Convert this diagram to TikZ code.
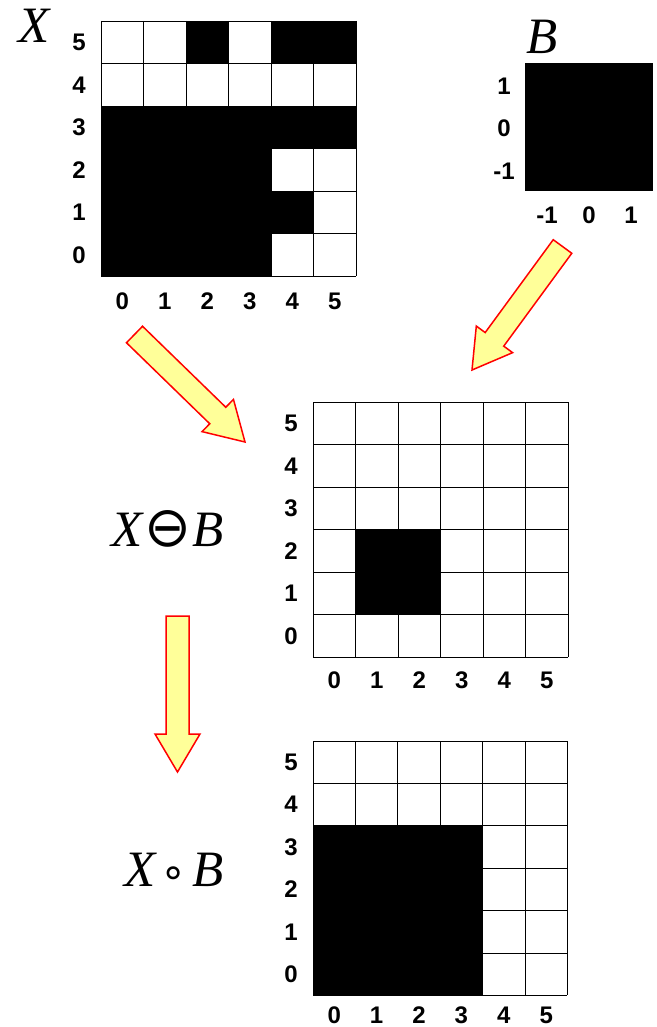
\documentclass[tikz,border=0pt]{standalone}
\usepackage{fontspec}
\setmainfont{Liberation Serif}
\newfontfamily\digitfont{Liberation Sans}
\newfontfamily\symbfont{DejaVu Sans}
\usetikzlibrary{calc}
\definecolor{arrowfill}{HTML}{FFFF99}
\tikzset{
  gridline/.style={line width=0.8pt, draw=black},
  axislabel/.style={font=\digitfont\bfseries\fontsize{24}{24}\selectfont, inner sep=0pt},
  setlabel/.style={font=\itshape\fontsize{51}{51}\selectfont, inner sep=0pt},
  blockarrow/.style={fill=arrowfill, draw=red, line width=1.5pt, line join=miter},
}
% #1 name, #2 x0, #3 y0, #4 cell size, #5 list of black cells col/row, #6 column label offset
\newcommand\gridsix[6]{%
  \coordinate (#1) at (#2,#3);
  \foreach \c/\r in {#5}{\fill ({#2+\c*#4},{#3+(5-\r)*#4}) rectangle ++(#4,#4);}
  \foreach \i in {0,...,6}{%
    \draw[gridline] ({#2+\i*#4},#3) -- ({#2+\i*#4},{#3+6*#4});
    \draw[gridline] (#2,{#3+\i*#4}) -- ({#2+6*#4},{#3+\i*#4});
  }
  \foreach \k in {0,...,5}{%
    \node[axislabel] (#1r\k) at ({#2-22},{#3+(5.5-\k)*#4}) {\k};
    \node[axislabel] (#1c\k) at ({#2+(\k+0.5)*#4},{#3+6*#4+#6}) {\k};
  }
}
% block arrow: #1 tail coordinate, #2 tip coordinate, #3 name
\newcommand\blockarr[3]{%
  \coordinate (#3h) at ($(#2)!38pt!(#1)$);
  \draw[blockarrow] ($(#1)!11.5pt!90:(#2)$) -- ($(#3h)!11.5pt!90:(#2)$) -- ($(#3h)!22.5pt!90:(#2)$)
    -- (#2) -- ($(#3h)!22.5pt!-90:(#2)$) -- ($(#3h)!11.5pt!-90:(#2)$) -- ($(#1)!11.5pt!-90:(#2)$) -- cycle;
}
\begin{document}
\begin{tikzpicture}[x=1pt,y=-1pt]
\useasboundingbox (0,0) rectangle (656,1027);
% X grid
\gridsix{gx}{101}{21}{42.5}{2/5,4/5,5/5,0/3,1/3,2/3,3/3,4/3,5/3,0/2,1/2,2/2,3/2,0/1,1/1,2/1,3/1,4/1,0/0,1/0,2/0,3/0}{25}
\node[setlabel] (lx) at (34,26) {X};
% B structuring element
\fill (525,63) rectangle (653,191);
\node[setlabel] (lb) at (542,37) {B};
\node[axislabel] (br1) at (504,86) {1};
\node[axislabel] (br0) at (504,128) {0};
\node[axislabel] (brm) at (504,171) {-1};
\node[axislabel] (bcm) at (547,215) {-1};
\node[axislabel] (bc0) at (589,215) {0};
\node[axislabel] (bc1) at (631,215) {1};
% erosion
\gridsix{ge}{313}{402}{42.5}{1/1,2/1,1/2,2/2}{23}
\node[setlabel, anchor=base] (le) at (167.5,546) {X\kern2pt{\symbfont\fontsize{56}{56}\selectfont ⊖}\kern1pt B};
% opening
\gridsix{go}{313}{741}{42.4}{0/0,1/0,2/0,3/0,0/1,1/1,2/1,3/1,0/2,1/2,2/2,3/2,0/3,1/3,2/3,3/3}{20}
\node[setlabel, anchor=base] (lo) at (174,886) {X\kern5pt{\symbfont\fontsize{42}{42}\selectfont ∘}\kern5pt B};
% arrows
\coordinate (a1t) at (562.5,246.5); \coordinate (a1p) at (472,370);
\coordinate (a2t) at (134.5,334.5); \coordinate (a2p) at (245,442);
\coordinate (a3t) at (177.5,616);   \coordinate (a3p) at (177.5,772);
\blockarr{a1t}{a1p}{a1}
\blockarr{a2t}{a2p}{a2}
\blockarr{a3t}{a3p}{a3}
\end{tikzpicture}
\end{document}
